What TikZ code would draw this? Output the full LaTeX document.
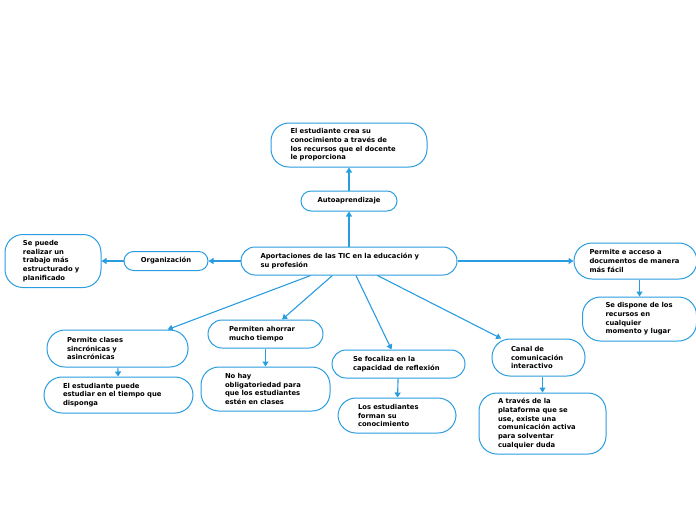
\documentclass[tikz,border=0pt]{standalone}
\usepackage{fontspec}
\setmainfont{DejaVu Sans}
\usetikzlibrary{positioning}
\usetikzlibrary{arrows.meta}
\definecolor{ticblue}{RGB}{41,157,224}
\tikzset{
  idea/.style= {
    rectangle,
    draw = ticblue,
    fill = white,
    line width = 1pt,
    rounded corners = 18pt,
    align = left,
    font = \fontsize{6.8}{8.7}\selectfont\bfseries,
    inner xsep = 19.5pt,
    inner ysep = 3pt
  },
  keyword/.style= {
    idea,
    align = center,
    inner xsep = 4pt
  },
  link/.style= {
    draw = ticblue,
    line width = 1.1pt,
    -{Triangle[length=5pt,width=6pt]}
  }
}

\begin{document}
\begin{tikzpicture}[x=1pt,y=-1pt]
  \useasboundingbox (0,0) rectangle (696,520);

  % central topic
  \node[idea,text width=177pt,minimum height=28pt,rounded corners=14pt] (main) at (349,261)
    {Aportaciones de las TIC en la educación y\\su profesión};

  % upwards
  \node[keyword,minimum width=96pt,minimum height=20pt,rounded corners=10pt,above=35pt of main] (auto) {Autoaprendizaje};
  \node[idea,text width=117pt,minimum height=44pt,above=23pt of auto] (selfl)
    {El estudiante crea su\\conocimiento a través de\\los recursos que el docente\\le proporciona};

  % left side
  \node[keyword,minimum width=84pt,minimum height=19pt,rounded corners=9.5pt,left=32pt of main] (org) {Organización};
  \node[idea,text width=60pt,inner xsep=18pt,minimum height=53pt,left=22pt of org] (struct)
    {Se puede\\realizar un\\trabajo más\\estructurado y\\planificado};

  % right side
  \node[idea,text width=92pt,inner xsep=15.5pt,minimum height=36pt,right=116pt of main] (access)
    {Permite e acceso a\\documentos de manera\\más fácil};
  \node[idea,text width=68pt,inner xsep=23pt,minimum height=44pt,below=17pt of access,xshift=4pt] (avail)
    {Se dispone de los\\recursos en\\cualquier\\momento y lugar};

  % downwards
  \node[idea,text width=101pt,inner xsep=20pt,minimum height=37pt] (sync) at (117.5,348.5)
    {Permite clases\\sincrónicas y\\asincrónicas};
  \node[idea,text width=111pt,inner xsep=19pt,minimum height=36pt,below=9pt of sync,xshift=1pt] (anytime)
    {El estudiante puede\\estudiar en el tiempo que\\disponga};

  \node[idea,text width=73pt,inner xsep=21pt,minimum height=28pt,rounded corners=14pt] (save) at (265.5,334)
    {Permiten ahorrar\\mucho tiempo};
  \node[idea,text width=81pt,inner xsep=24pt,minimum height=44pt,below=18pt of save] (nooblig)
    {No hay\\obligatoriedad para\\que los estudiantes\\estén en clases};

  \node[idea,text width=91pt,inner xsep=21pt,minimum height=28pt,rounded corners=14pt] (reflect) at (398.5,364)
    {Se focaliza en la\\capacidad de reflexión};
  \node[idea,text width=78pt,inner xsep=20pt,minimum height=35pt,below=19pt of reflect,xshift=-1.5pt] (build)
    {Los estudiantes\\forman su\\conocimiento};

  \node[idea,text width=55pt,inner xsep=19pt,minimum height=37pt] (channel) at (538.5,357.5)
    {Canal de\\comunicación\\interactivo};
  \node[idea,text width=89pt,inner xsep=19pt,minimum height=61pt,below=16pt of channel,xshift=4pt] (doubts)
    {A través de la\\plataforma que se\\use, existe una\\comunicación activa\\para solventar\\cualquier duda};

  % connectors
  \draw[link] (main) -- (auto);
  \draw[link] (auto) -- (selfl);
  \draw[link] (main) -- (org);
  \draw[link] (org) -- (struct);
  \draw[link] (main) -- (access);
  \draw[link] (access.south -| avail.north) -- (avail);
  \draw[link] (main) -- (sync);
  \draw[link] (sync) -- (anytime);
  \draw[link] (main) -- (save);
  \draw[link] (save) -- (nooblig);
  \draw[link] (main) -- (reflect);
  \draw[link] (reflect) -- (build);
  \draw[link] (main) -- (channel);
  \draw[link] (channel.south -| doubts.north) -- (doubts);

\end{tikzpicture}
\end{document}
